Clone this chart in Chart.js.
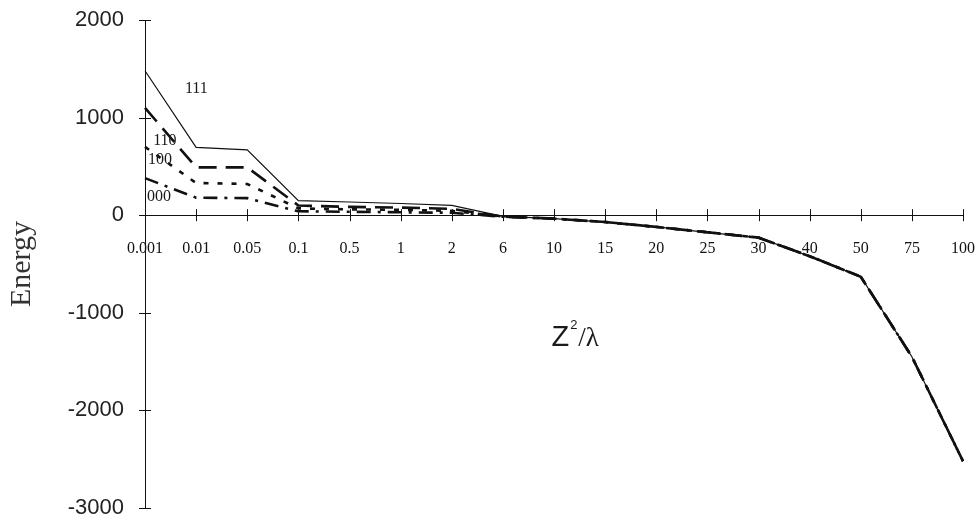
<!DOCTYPE html>
<html>
<head>
<meta charset="utf-8">
<script src="https://cdn.jsdelivr.net/npm/chart.js@4.4.0/dist/chart.umd.min.js"></script>
<style>
html,body{margin:0;padding:0;background:#fff;}
#wrap{width:977px;height:526px;}
</style>
</head>
<body>
<div id="wrap"><canvas id="c" width="977" height="526"></canvas></div>
<script>
const categories = ['0.001','0.01','0.05','0.1','0.5','1','2','6','10','15','20','25','30','40','50','75','100'];
const s111 = [1480, 695, 670, 150, 135, 120, 100, -12, -35, -70, -120, -175, -230, -420, -630, -1450, -2520];
const s110 = [1100, 490, 490, 100, 85, 78, 65, -14, -35, -70, -120, -175, -230, -420, -630, -1450, -2520];
const s100 = [700, 330, 320, 70, 60, 55, 45, -15, -35, -70, -120, -175, -230, -420, -630, -1450, -2520];
const s000 = [380, 180, 175, 40, 35, 30, 25, -16, -35, -70, -120, -175, -230, -420, -630, -1450, -2520];
const yTicks = [2000, 1000, 0, -1000, -2000, -3000];
const seriesLabels = [
  {text:'111', idx:0.78, val:1290},
  {text:'110', idx:0.16, val:760},
  {text:'100', idx:0.06, val:570},
  {text:'000', idx:0.04, val:185}
];

const crossTicks = {
  id:'crossTicks',
  afterDraw(chart){
    const ctx = chart.ctx, x = chart.scales.x, y = chart.scales.y;
    const y0 = y.getPixelForValue(0);
    const xa = x.getPixelForValue(0);
    ctx.save();
    ctx.strokeStyle = '#111';
    ctx.lineWidth = 1;
    ctx.beginPath();
    for (let i = 0; i < categories.length; i++) {
      const px = Math.round(x.getPixelForValue(i)) + 0.5;
      ctx.moveTo(px, y0 - 6); ctx.lineTo(px, y0 + 6);
    }
    yTicks.forEach(v => {
      const py = Math.round(y.getPixelForValue(v)) + 0.5;
      ctx.moveTo(xa - 6, py); ctx.lineTo(xa + 6, py);
    });
    ctx.stroke();
    // series labels
    ctx.fillStyle = '#1a1a1a';
    ctx.font = '16px "Liberation Serif", serif';
    ctx.textAlign = 'left';
    ctx.textBaseline = 'middle';
    seriesLabels.forEach(l => {
      ctx.fillText(l.text, x.getPixelForValue(l.idx), y.getPixelForValue(l.val));
    });
    // x axis title Z^2/λ
    const tx = x.getPixelForValue(7.95), ty = y.getPixelForValue(-1340);
    ctx.font = '29px "Liberation Sans", sans-serif';
    ctx.textBaseline = 'alphabetic';
    ctx.fillText('Z', tx, ty);
    const zw = ctx.measureText('Z').width;
    ctx.font = '13px "Liberation Sans", sans-serif';
    ctx.fillText('2', tx + zw + 1, ty - 17);
    ctx.font = '27px "Liberation Serif", serif';
    ctx.fillText('/λ', tx + zw + 9, ty);
    ctx.restore();
  }
};

const common = {fill:false, pointRadius:0, tension:0, borderColor:'#111'};
new Chart(document.getElementById('c'), {
  type:'line',
  data:{
    labels:categories,
    datasets:[
      Object.assign({label:'111', data:s111, borderWidth:1.2}, common),
      Object.assign({label:'110', data:s110, borderWidth:2.6, borderDash:[18,9]}, common),
      Object.assign({label:'100', data:s100, borderWidth:2.6, borderDash:[5,9]}, common),
      Object.assign({label:'000', data:s000, borderWidth:2.6, borderDash:[14,7,3,7]}, common)
    ]
  },
  options:{
    responsive:false,
    animation:false,
    layout:{padding:{top:20,bottom:18,right:14,left:0}},
    plugins:{legend:{display:false}, tooltip:{enabled:false}},
    scales:{
      x:{
        type:'category',
        position:{y:0},
        offset:false,
        afterFit(s){ s.paddingLeft = 0; s.paddingRight = 0; },
        grid:{display:true, drawOnChartArea:false, drawTicks:false},
        border:{display:true, color:'#111', width:1},
        ticks:{color:'#111', padding:24, maxRotation:0, autoSkip:false, font:{family:'"Liberation Serif", serif', size:16}}
      },
      y:{
        min:-3000, max:2000,
        afterFit(s){ s.width = 145; s.paddingTop = 0; s.paddingBottom = 0; },
        grid:{display:true, drawOnChartArea:false, drawTicks:false},
        border:{display:true, color:'#111', width:1},
        ticks:{stepSize:1000, color:'#222', padding:21, callback:(v)=>String(v), font:{family:'"Liberation Sans", sans-serif', size:22}},
        title:{display:true, text:'Energy', color:'#333', padding:{top:4,bottom:0}, font:{family:'"Liberation Serif", serif', size:30}}
      }
    }
  },
  plugins:[crossTicks]
});
</script>
</body>
</html>
